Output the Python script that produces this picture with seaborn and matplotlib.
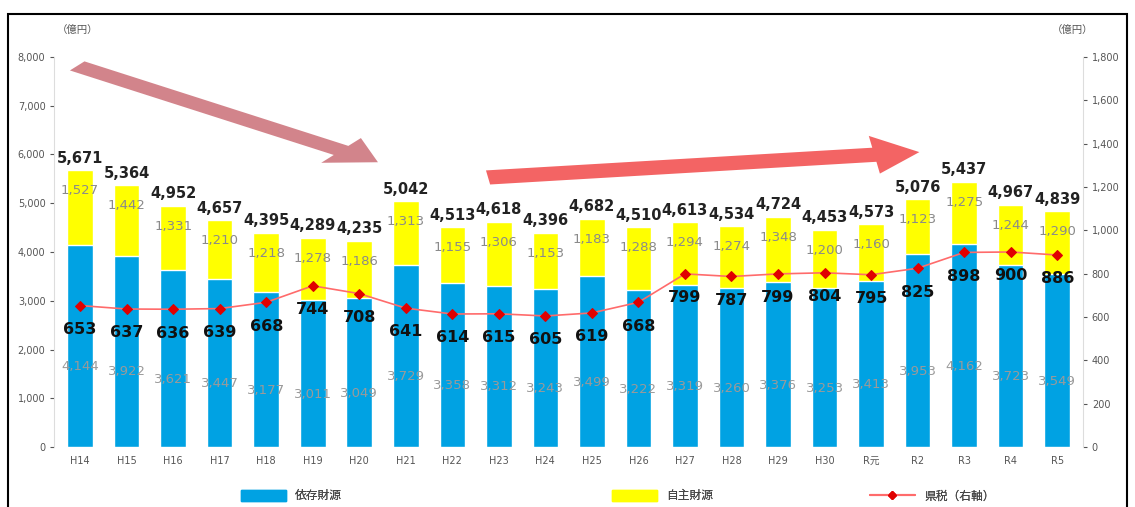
import numpy as np
import matplotlib
matplotlib.use("Agg")
import matplotlib.pyplot as plt
import matplotlib.patches as mpatches
from matplotlib.lines import Line2D
import seaborn as sns
import pandas as pd

years = ["H14", "H15", "H16", "H17", "H18", "H19", "H20", "H21", "H22", "H23", "H24",
         "H25", "H26", "H27", "H28", "H29", "H30", "R元", "R2", "R3", "R4", "R5"]
dependent = [4144, 3922, 3621, 3447, 3177, 3011, 3049, 3729, 3358, 3312, 3243,
             3499, 3222, 3319, 3260, 3376, 3253, 3413, 3953, 4162, 3723, 3549]
own = [1527, 1442, 1331, 1210, 1218, 1278, 1186, 1313, 1155, 1306, 1153,
       1183, 1288, 1294, 1274, 1348, 1200, 1160, 1123, 1275, 1244, 1290]
pref_tax = [653, 637, 636, 639, 668, 744, 708, 641, 614, 615, 605,
            619, 668, 799, 787, 799, 804, 795, 825, 898, 900, 886]

df = pd.DataFrame({"year": years, "dep": dependent, "own": own, "tax": pref_tax})
df["total"] = df["dep"] + df["own"]
df["pos"] = np.arange(len(df))

sns.set_style("white")
plt.rcParams["font.family"] = ["DejaVu Sans", "Noto Sans CJK JP"]

blue = "#00a2e3"
yellow = "#ffff00"
grey = "#8a8a8a"

fig = plt.figure(figsize=(11.35, 5.07), dpi=100)
ax = fig.add_axes([0.048, 0.118, 0.906, 0.77])

sns.barplot(data=df, x="year", y="total", color=yellow, width=0.55, saturation=1, ax=ax)
sns.barplot(data=df, x="year", y="dep", color=blue, width=0.55, saturation=1, ax=ax)
ax.set_ylim(0, 8000)
ax.set_xlim(-0.55, len(df) - 0.45)
ax.set_yticks(range(0, 8001, 1000))
ax.set_yticklabels([f"{v:,}" for v in range(0, 8001, 1000)])
ax.set_xlabel("")
ax.set_ylabel("")
ax.tick_params(axis="both", labelsize=7, colors="#555555", length=3)
for s in ["top", "right", "bottom"]:
    ax.spines[s].set_visible(False)
ax.spines["left"].set_color("#dddddd")

ax2 = ax.twinx()
sns.lineplot(data=df, x="pos", y="tax", color="#ff6b6b", lw=1.2, marker="D",
             markersize=5, markerfacecolor="#e00000", markeredgecolor="#e00000", ax=ax2)
ax2.set_ylim(0, 1800)
ax2.set_yticks(range(0, 1801, 200))
ax2.set_yticklabels([f"{v:,}" for v in range(0, 1801, 200)])
ax2.set_ylabel("")
ax2.tick_params(axis="y", labelsize=7, colors="#555555", length=3)
for s in ["top", "left", "bottom"]:
    ax2.spines[s].set_visible(False)
ax2.spines["right"].set_color("#dddddd")

for i, r in df.iterrows():
    ax.text(i, r["total"] + 90, f"{r['total']:,}", ha="center", va="bottom",
            fontsize=10.5, fontweight="bold", color="#222222")
    ax.text(i, r["total"] - 420, f"{r['own']:,}", ha="center", va="center",
            fontsize=9.5, color=grey)
    ax.text(i, r["dep"] / 2 - 420, f"{r['dep']:,}", ha="center", va="center",
            fontsize=9.5, color="#9a9a9a")
    ax2.text(i, r["tax"] - 75, f"{r['tax']}", ha="center", va="top",
             fontsize=11.5, fontweight="bold", color="#111111")

fig.text(0.068, 0.935, "（億円）", fontsize=7.5, color="#555555", ha="center")
fig.text(0.945, 0.935, "（億円）", fontsize=7.5, color="#555555", ha="center")

# decorative trend arrows
fig.patches.append(mpatches.FancyArrow(0.068, 0.87, 0.265, -0.19, width=0.022,
                                       head_width=0.06, head_length=0.04,
                                       color="#c0505a", alpha=0.7, lw=0,
                                       length_includes_head=True,
                                       transform=fig.transFigure))
fig.patches.append(mpatches.FancyArrow(0.43, 0.65, 0.38, 0.05, width=0.028,
                                       head_width=0.075, head_length=0.04,
                                       color="#f03030", alpha=0.75, lw=0,
                                       length_includes_head=True,
                                       transform=fig.transFigure))

# legend entries placed one by one
handles = [mpatches.Patch(color=blue, label="依存財源"),
           mpatches.Patch(color=yellow, label="自主財源"),
           Line2D([0], [0], color="#ff6b6b", marker="D", markersize=4,
                  markerfacecolor="#e00000", markeredgecolor="#e00000", label="県税（右軸）")]
leg_x = [0.203, 0.530, 0.757]
for h, x in zip(handles, leg_x):
    lg = fig.legend(handles=[h], loc="lower left", bbox_to_anchor=(x, -0.012),
                    frameon=False, fontsize=8.5, handlelength=3.8, handleheight=1.1,
                    labelcolor="#444444")
    fig.add_artist(lg)

# outer frame
fig.patches.append(mpatches.Rectangle((0.007, -0.01), 0.986, 0.982, fill=False,
                                      lw=1.5, edgecolor="black",
                                      transform=fig.transFigure))

fig.savefig("out.png", dpi=100)
